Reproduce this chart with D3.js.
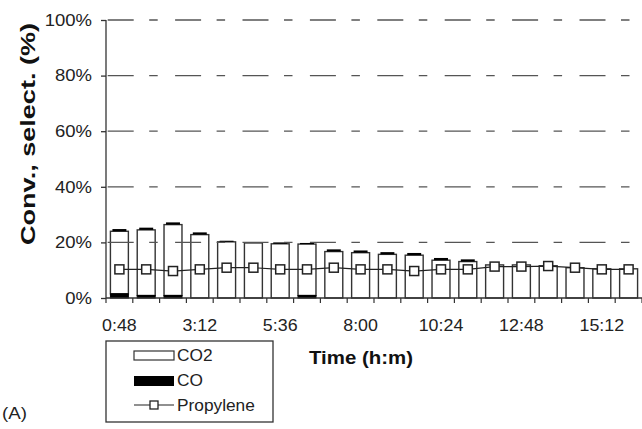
<!DOCTYPE html>
<html><head><meta charset="utf-8">
<script src="https://cdn.jsdelivr.net/npm/d3@7"></script>
<style>body{margin:0;background:#fff}svg{display:block}text{font-family:Arial,"Liberation Sans",sans-serif}</style>
</head><body><svg id="c" width="642" height="429"></svg>
<script>
const times = ["0:48","1:36","2:24","3:12","4:00","4:48","5:36","6:24","7:12","8:00","8:48","9:36","10:24","11:12","12:00","12:48","13:36","14:24","15:12","16:00"];
const tickLabels = ["0:48","3:12","5:36","8:00","10:24","12:48","15:12"];
const totalConv = [24.8,25.3,27.2,23.6,20.6,20.1,20.0,19.8,17.5,17.1,16.5,16.2,14.4,13.9,11.9,11.9,11.6,10.9,10.5,10.5];
const coBottom = [1.5,0.9,0.9,0,0,0,0,0.9,0,0,0,0,0,0,0,0,0,0,0,0];
const coTop = [0.8,0.8,0.8,0.8,0.4,0.3,0.5,0.4,0.8,0.8,0.8,0.8,0.8,0.8,0,0,0,0,0,0];
const propylene = [10.3,10.3,9.7,10.3,10.9,10.9,10.3,10.3,10.9,10.3,10.3,9.7,10.3,10.3,11.3,11.3,11.5,10.9,10.3,10.3];
const co2 = totalConv.map((t,i)=>t-coBottom[i]-coTop[i]);
const yTicks = [0,20,40,60,80,100];

const svg = d3.select("#c");
const L=106,R=642,T=20,B=298;
const x = d3.scaleBand().domain(times).range([L,R]).paddingInner(0.33).paddingOuter(0.165);
const y = d3.scaleLinear().domain([0,100]).range([B,T]);

function stretch(sel, f){ sel.each(function(){ const n=this; const w=n.getComputedTextLength(); d3.select(n).attr("textLength",w*f).attr("lengthAdjust","spacingAndGlyphs"); }); }

// bars
const g = svg.append("g");
times.forEach((t,i)=>{
  const x0 = x(t), w = x.bandwidth();
  const y0 = y(0), y1 = y(coBottom[i]), y2 = y(coBottom[i]+co2[i]), y3 = y(totalConv[i]);
  g.append("rect").attr("x",x0).attr("y",y2).attr("width",w).attr("height",y1-y2)
    .attr("fill","#fff").attr("stroke","#333").attr("stroke-width",1.4);
  if(coBottom[i]>0) g.append("rect").attr("x",x0).attr("y",y1).attr("width",w).attr("height",y0-y1).attr("fill","#000").attr("stroke","#000").attr("stroke-width",1);
  if(coTop[i]>0) g.append("rect").attr("x",x0+2).attr("y",y3).attr("width",w-4).attr("height",y2-y3).attr("fill","#000");
});

// gridlines
yTicks.filter(v=>v>0).forEach(v=>{
  svg.append("line").attr("x1",L).attr("x2",R).attr("y1",y(v)).attr("y2",y(v))
    .attr("stroke","#555").attr("stroke-width",1.3).attr("stroke-dasharray","26,15.5,8.5,17.4").attr("stroke-dashoffset",65.7);
});

// propylene line
const line = d3.line().x((d,i)=>x(times[i])+x.bandwidth()/2).y(d=>y(d));
svg.append("path").datum(propylene).attr("d",line).attr("fill","none").attr("stroke","#222").attr("stroke-width",1.2);
svg.selectAll(".m").data(propylene).enter().append("rect")
  .attr("x",(d,i)=>x(times[i])+x.bandwidth()/2-4.5).attr("y",d=>y(d)-4.5).attr("width",9).attr("height",9)
  .attr("fill","#fff").attr("stroke","#222").attr("stroke-width",1.5);

// axes
const ya = d3.axisLeft(y).tickValues(yTicks).tickFormat(d=>d+"%").tickSize(5).tickPadding(9);
const yg = svg.append("g").attr("transform",`translate(${L},0)`).call(ya);
yg.select(".domain").attr("stroke","#333").attr("stroke-width",1.3).attr("d",`M0,${T}V${B}`);
yg.selectAll(".tick line").attr("stroke","#333").attr("stroke-width",1.3);
yg.selectAll("text").attr("font-size",16.5).attr("fill","#222");
stretch(yg.selectAll("text"),1.12);

svg.append("line").attr("x1",L).attr("x2",R).attr("y1",B).attr("y2",B).attr("stroke","#333").attr("stroke-width",1.3);
d3.range(times.length+1).forEach(k=>{
  const xx = L + k*x.step();
  svg.append("line").attr("x1",xx).attr("x2",xx).attr("y1",B).attr("y2",B+5).attr("stroke","#333").attr("stroke-width",1.2);
});
const xa = d3.axisBottom(x).tickValues(tickLabels).tickSize(0).tickPadding(21);
const xg = svg.append("g").attr("transform",`translate(0,${B})`).call(xa);
xg.select(".domain").remove();
xg.selectAll("text").attr("font-size",16.5).attr("fill","#222");
stretch(xg.selectAll("text"),1.08);

// titles
svg.append("text").attr("transform","translate(35,134) rotate(-90)").attr("text-anchor","middle")
  .attr("font-size",20).attr("font-weight","bold").attr("fill","#111").text("Conv., select. (%)")
  .attr("textLength",222).attr("lengthAdjust","spacingAndGlyphs");
svg.append("text").attr("x",361).attr("y",364).attr("text-anchor","middle")
  .attr("font-size",18).attr("font-weight","bold").attr("fill","#111").text("Time (h:m)")
  .attr("textLength",104).attr("lengthAdjust","spacingAndGlyphs");

// legend
const lg = svg.append("g");
lg.append("rect").attr("x",106).attr("y",341).attr("width",167).attr("height",81).attr("fill","#fff").attr("stroke","#333").attr("stroke-width",1.3);
lg.append("rect").attr("x",134).attr("y",351).attr("width",40).attr("height",9).attr("fill","#fff").attr("stroke","#333").attr("stroke-width",1.2);
lg.append("rect").attr("x",134).attr("y",376).attr("width",40).attr("height",10).attr("fill","#000");
lg.append("line").attr("x1",134).attr("x2",174).attr("y1",405).attr("y2",405).attr("stroke","#222").attr("stroke-width",1.2);
lg.append("rect").attr("x",150).attr("y",401).attr("width",8).attr("height",8).attr("fill","#fff").attr("stroke","#222").attr("stroke-width",1.3);
const lt = lg.selectAll(".lt").data([["CO2",361],["CO",386],["Propylene",411]]).enter().append("text")
  .attr("x",177).attr("y",d=>d[1]).attr("font-size",16).attr("fill","#222").text(d=>d[0]);
stretch(lt,1.08);

const at = svg.append("text").attr("x",2).attr("y",419).attr("font-size",17).attr("fill","#222").text("(A)");
stretch(at,1.1);
</script></body></html>
